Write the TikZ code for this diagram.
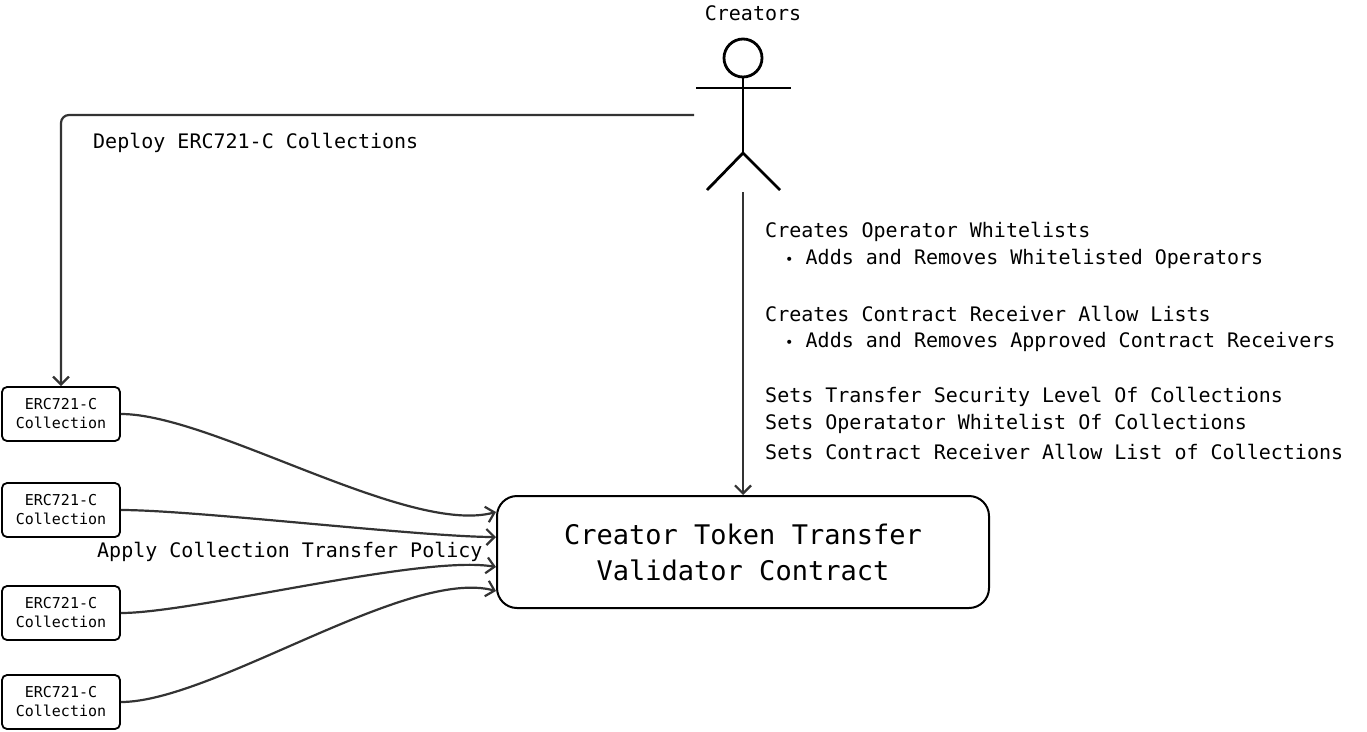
\documentclass[tikz,border=0pt]{standalone}
\usepackage{fontspec}
\setmonofont{DejaVu Sans Mono}
\usetikzlibrary{arrows.meta,positioning}
\tikzset{>={Straight Barb[length=8pt,width=16pt,line width=2.2pt]}}
\tikzset{
  coll/.style={draw,line width=1.8pt,rounded corners=5pt,minimum width=118pt,minimum height=54pt,
    align=center,font=\ttfamily\fontsize{15}{19}\selectfont},
  validator/.style={draw,line width=2pt,rounded corners=20pt,minimum width=492pt,minimum height=112pt,
    align=center,font=\ttfamily\fontsize{27}{36}\selectfont},
  txt/.style={font=\ttfamily\fontsize{20}{24}\selectfont,inner sep=0pt},
  flow/.style={->,line width=2.2pt,draw=black!80},
}
\begin{document}
\begin{tikzpicture}[x=1pt,y=-1pt]
\useasboundingbox (0,0) rectangle (1367,731);
% actor
\draw[line width=2.8pt] (743,58) circle (19);
\draw[line width=2.8pt] (696,88) -- (791,88);
\draw[line width=2.8pt] (743,77) -- (743,153);
\draw[line width=2.8pt] (707,190) -- (743,153) -- (780,190);
\node[txt] (creators) at (753,13) {Creators};
\coordinate (actL) at (694,115);
\coordinate (actB) at (743,192);
% collections
\node[coll] (c1) at (61,414) {ERC721-C\\Collection};
\node[coll] (c2) at (61,510) {ERC721-C\\Collection};
\node[coll] (c3) at (61,613) {ERC721-C\\Collection};
\node[coll] (c4) at (61,702) {ERC721-C\\Collection};
\node[validator] (val) at (743,552) {Creator Token Transfer\\Validator Contract};
% connectors
\draw[flow,rounded corners=8pt] (actL) -| (c1.north);
\node[txt,anchor=west] (deploy) at (93,143) {Deploy ERC721-C Collections};
\draw[flow] (actB) -- (val.north);
\draw[flow] (c1.east) to[out=0,in=195,looseness=0.6] ([yshift=40pt]val.west);
\draw[flow] (c2.east) to[out=0,in=180,looseness=0.5] ([yshift=15pt]val.west);
\draw[flow] (c3.east) to[out=0,in=170,looseness=0.5] ([yshift=-15pt]val.west);
\draw[flow] (c4.east) to[out=0,in=165,looseness=0.6] ([yshift=-39pt]val.west);
\node[txt,anchor=west,fill=white,inner sep=1pt] (apply) at (96,552) {Apply Collection Transfer Policy};
% rights text
\node[txt,anchor=west] (t1) at (765,232) {Creates Operator Whitelists};
\node[txt,anchor=west] (t2) at (785,259) {{\fontsize{14}{14}\selectfont•} Adds and Removes Whitelisted Operators};
\node[txt,anchor=west] (t3) at (765,314) {Creates Contract Receiver Allow Lists};
\node[txt,anchor=west] (t4) at (785,342) {{\fontsize{14}{14}\selectfont•} Adds and Removes Approved Contract Receivers};
\node[txt,anchor=west] (t5) at (765,397) {Sets Transfer Security Level Of Collections};
\node[txt,anchor=west] (t6) at (765,424) {Sets Operatator Whitelist Of Collections};
\node[txt,anchor=west] (t7) at (765,452) {Sets Contract Receiver Allow List of Collections};
\end{tikzpicture}
\end{document}
